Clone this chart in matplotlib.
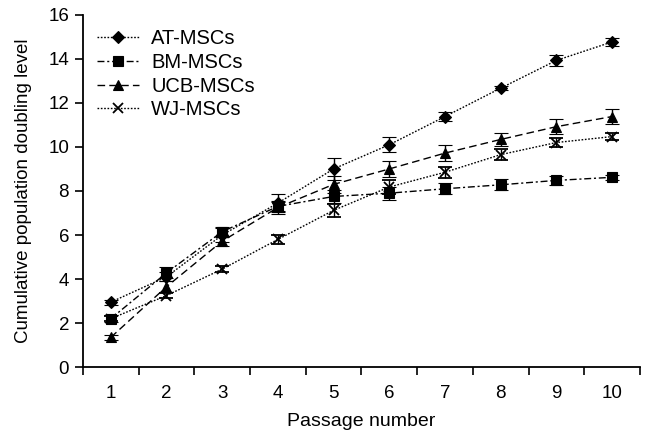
import matplotlib
matplotlib.use("Agg")
import matplotlib.pyplot as plt
import numpy as np

plt.rcParams['font.family'] = ['Liberation Sans', 'DejaVu Sans']

passage = [1, 2, 3, 4, 5, 6, 7, 8, 9, 10]
at_mean = [2.95, 4.1, 6.0, 7.45, 9.0, 10.1, 11.38, 12.67, 13.93, 14.77]
at_err = [0.12, 0.2, 0.3, 0.4, 0.5, 0.35, 0.2, 0.1, 0.25, 0.18]
bm_mean = [2.2, 4.28, 6.15, 7.3, 7.75, 7.9, 8.1, 8.28, 8.48, 8.62]
bm_err = [0.15, 0.25, 0.2, 0.2, 0.3, 0.3, 0.25, 0.25, 0.2, 0.12]
ucb_mean = [1.35, 3.65, 5.72, 7.25, 8.3, 9.0, 9.72, 10.34, 10.92, 11.38]
ucb_err = [0.12, 0.25, 0.2, 0.3, 0.4, 0.35, 0.35, 0.3, 0.35, 0.35]
wj_mean = [2.2, 3.25, 4.45, 5.8, 7.12, 8.18, 8.85, 9.65, 10.2, 10.47]
wj_err = [0.1, 0.12, 0.15, 0.2, 0.3, 0.3, 0.25, 0.25, 0.2, 0.15]

labels = ['AT-MSCs', 'BM-MSCs', 'UCB-MSCs', 'WJ-MSCs']

fig = plt.figure(figsize=(6.53, 4.36), dpi=100)
ax = fig.add_axes([0.127, 0.158, 0.853, 0.808])

styles = [
    (at_mean, at_err, 'D', (0, (1.2, 1.2)), 6.5),
    (bm_mean, bm_err, 's', (0, (5, 2, 1.5, 2)), 6.5),
    (ucb_mean, ucb_err, '^', (0, (5.5, 3)), 7.5),
    (wj_mean, wj_err, 'x', (0, (1.2, 1.2)), 7.5),
]
for (m, e, mk, ls, ms), lab in zip(styles, labels):
    ax.errorbar(passage, m, yerr=e, color='black', marker=mk, markersize=ms,
                linestyle=ls, linewidth=1.0, capsize=5, elinewidth=1.0,
                capthick=1.2, markeredgewidth=1.3 if mk == 'x' else 0.8,
                label=lab)

ax.set_xlim(0.5, 10.5)
ax.set_ylim(0, 16)
ax.set_yticks(np.arange(0, 17, 2))
ax.set_xticks(np.arange(0.5, 11, 1))
ax.set_xticklabels([])
ax.set_xticks(passage, minor=True)
ax.set_xticklabels([str(p) for p in passage], minor=True)
ax.tick_params(axis='x', which='major', direction='out', length=6, width=1.2)
ax.tick_params(axis='x', which='minor', length=0, pad=13, labelsize=13.5)
ax.tick_params(axis='y', direction='out', length=6, width=1.2, labelsize=13.5, pad=4)
for s in ['top', 'right']:
    ax.spines[s].set_visible(False)
for s in ['left', 'bottom']:
    ax.spines[s].set_linewidth(1.3)

ax.set_xlabel('Passage number', fontsize=14, labelpad=8)
ax.set_ylabel('Cumulative population doubling level', fontsize=13.5, labelpad=12)

handles, labs = ax.get_legend_handles_labels()
handles = [h[0] for h in handles]
ax.legend(handles, labs, loc='upper left', frameon=False, fontsize=14.5,
          bbox_to_anchor=(0.0, 1.0), handlelength=2.1, handletextpad=0.6,
          labelspacing=0.24, borderaxespad=0.4, borderpad=0.3)

fig.savefig('out.png', dpi=100)
